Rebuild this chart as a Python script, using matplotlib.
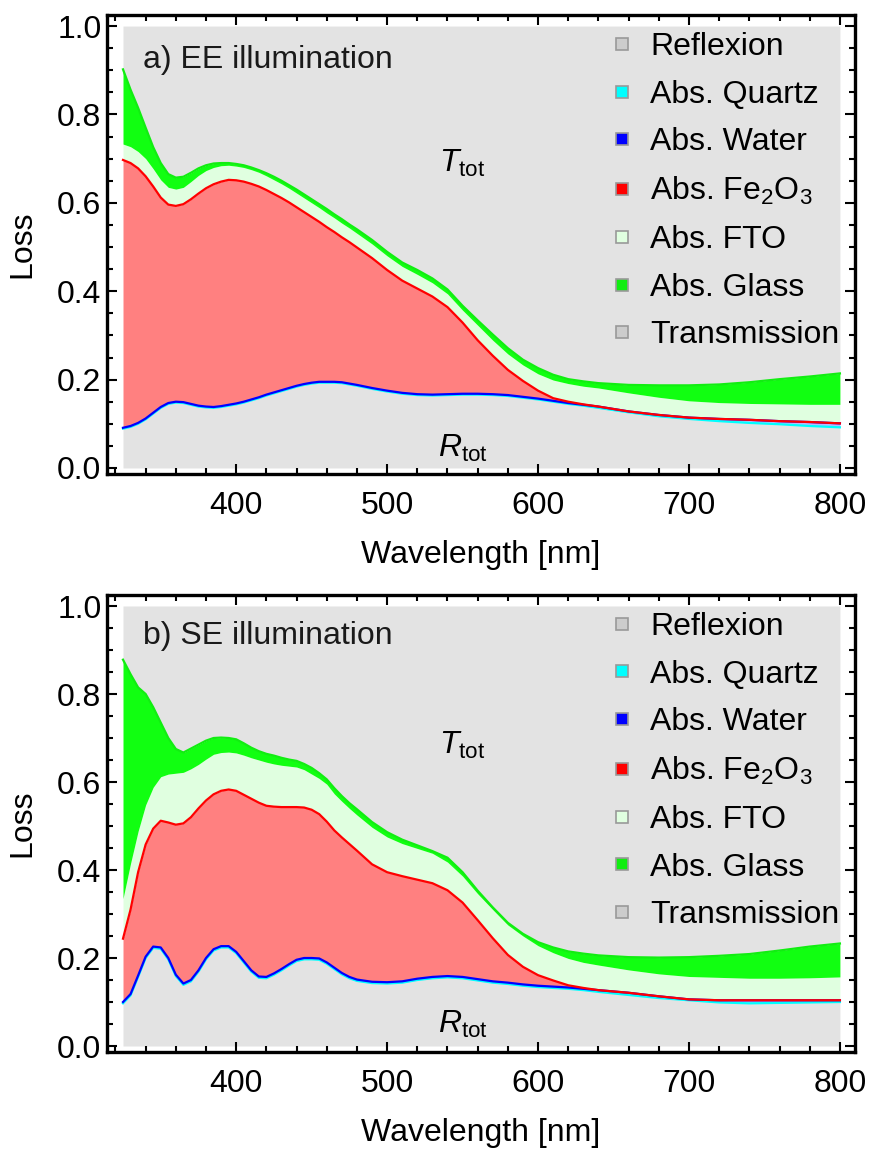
import numpy as np
import matplotlib
matplotlib.use("Agg")
import matplotlib.pyplot as plt
from matplotlib.lines import Line2D
from matplotlib.ticker import MultipleLocator, FormatStrFormatter

plt.rcParams['font.family'] = ['Liberation Sans', 'DejaVu Sans']
plt.rcParams['mathtext.fontset'] = 'custom'
plt.rcParams['mathtext.rm'] = 'Liberation Sans'
plt.rcParams['mathtext.it'] = 'Liberation Sans:italic'

# wavelength grid (nm)
wl = [325, 330, 335, 340, 345, 350, 355, 360, 365, 370, 375, 380, 385, 390,
      395, 400, 405, 410, 415, 420, 425, 430, 435, 440, 445, 450, 455, 460,
      465, 470, 475, 480, 490, 500, 510, 520, 530, 540, 550, 560, 570, 580,
      590, 600, 610, 620, 630, 640, 660, 680, 700, 720, 740, 760, 780, 800]

# cumulative loss curves, panel a) EE illumination
a_quartz = [0.089, 0.093, 0.100, 0.110, 0.123, 0.136, 0.145, 0.148, 0.147, 0.143,
            0.139, 0.137, 0.136, 0.138, 0.141, 0.144, 0.148, 0.153, 0.158, 0.164,
            0.169, 0.174, 0.179, 0.184, 0.188, 0.191, 0.193, 0.193, 0.193, 0.192,
            0.189, 0.186, 0.179, 0.173, 0.168, 0.165, 0.164, 0.165, 0.166, 0.166,
            0.165, 0.163, 0.159, 0.155, 0.150, 0.145, 0.141, 0.136, 0.126, 0.117,
            0.111, 0.106, 0.102, 0.099, 0.095, 0.092]
a_water = [0.091, 0.095, 0.102, 0.112, 0.125, 0.138, 0.147, 0.150, 0.149, 0.145,
           0.141, 0.139, 0.138, 0.140, 0.143, 0.146, 0.150, 0.155, 0.160, 0.166,
           0.171, 0.176, 0.181, 0.186, 0.190, 0.193, 0.195, 0.195, 0.195, 0.194,
           0.191, 0.188, 0.181, 0.175, 0.170, 0.167, 0.166, 0.167, 0.168, 0.168,
           0.167, 0.165, 0.161, 0.157, 0.152, 0.147, 0.143, 0.139, 0.128, 0.120,
           0.114, 0.111, 0.109, 0.106, 0.104, 0.101]
a_fe2o3 = [0.697, 0.690, 0.678, 0.660, 0.637, 0.612, 0.596, 0.593, 0.597, 0.608,
           0.621, 0.633, 0.642, 0.648, 0.652, 0.651, 0.648, 0.643, 0.637, 0.629,
           0.620, 0.611, 0.601, 0.590, 0.579, 0.568, 0.557, 0.545, 0.534, 0.522,
           0.511, 0.499, 0.475, 0.448, 0.424, 0.406, 0.388, 0.364, 0.329, 0.289,
           0.254, 0.222, 0.197, 0.175, 0.158, 0.150, 0.144, 0.139, 0.128, 0.120,
           0.114, 0.111, 0.109, 0.106, 0.104, 0.101]
a_fto = [0.733, 0.727, 0.716, 0.700, 0.677, 0.652, 0.635, 0.631, 0.635, 0.648,
         0.662, 0.673, 0.680, 0.684, 0.685, 0.683, 0.680, 0.675, 0.669, 0.661,
         0.652, 0.643, 0.633, 0.622, 0.611, 0.600, 0.589, 0.577, 0.566, 0.554,
         0.543, 0.531, 0.507, 0.480, 0.456, 0.438, 0.419, 0.394, 0.357, 0.323,
         0.289, 0.258, 0.233, 0.213, 0.199, 0.191, 0.185, 0.181, 0.170, 0.160,
         0.152, 0.148, 0.146, 0.145, 0.144, 0.144]
a_glass = [0.902, 0.856, 0.815, 0.770, 0.726, 0.690, 0.665, 0.657, 0.659, 0.668,
           0.678, 0.685, 0.689, 0.690, 0.690, 0.688, 0.685, 0.680, 0.674, 0.667,
           0.659, 0.650, 0.640, 0.630, 0.619, 0.608, 0.597, 0.586, 0.574, 0.563,
           0.551, 0.540, 0.516, 0.489, 0.465, 0.448, 0.429, 0.404, 0.367, 0.334,
           0.302, 0.271, 0.245, 0.226, 0.211, 0.201, 0.196, 0.192, 0.188, 0.187,
           0.187, 0.189, 0.194, 0.201, 0.207, 0.214]

# cumulative loss curves, panel b) SE illumination
b_quartz = [0.097, 0.115, 0.157, 0.200, 0.223, 0.221, 0.197, 0.159, 0.139, 0.147,
            0.169, 0.197, 0.217, 0.224, 0.224, 0.211, 0.190, 0.169, 0.155, 0.154,
            0.162, 0.172, 0.183, 0.193, 0.197, 0.197, 0.196, 0.187, 0.175, 0.163,
            0.154, 0.148, 0.143, 0.142, 0.144, 0.150, 0.154, 0.156, 0.154, 0.149,
            0.144, 0.141, 0.137, 0.134, 0.132, 0.130, 0.127, 0.123, 0.116, 0.109,
            0.104, 0.099, 0.097, 0.098, 0.099, 0.100]
b_water = [0.100, 0.118, 0.160, 0.203, 0.226, 0.224, 0.200, 0.162, 0.142, 0.150,
           0.172, 0.200, 0.220, 0.227, 0.227, 0.214, 0.193, 0.172, 0.158, 0.157,
           0.165, 0.175, 0.186, 0.196, 0.200, 0.200, 0.199, 0.190, 0.178, 0.166,
           0.157, 0.151, 0.146, 0.145, 0.147, 0.153, 0.157, 0.159, 0.157, 0.152,
           0.147, 0.144, 0.140, 0.137, 0.135, 0.133, 0.130, 0.127, 0.121, 0.113,
           0.106, 0.104, 0.104, 0.104, 0.104, 0.104]
b_fe2o3 = [0.244, 0.310, 0.395, 0.458, 0.494, 0.512, 0.508, 0.503, 0.506, 0.520,
           0.540, 0.558, 0.572, 0.580, 0.583, 0.580, 0.571, 0.562, 0.553, 0.546,
           0.544, 0.543, 0.543, 0.543, 0.542, 0.537, 0.527, 0.510, 0.490, 0.474,
           0.459, 0.444, 0.413, 0.395, 0.386, 0.378, 0.370, 0.354, 0.326, 0.286,
           0.245, 0.207, 0.180, 0.161, 0.149, 0.138, 0.132, 0.127, 0.121, 0.113,
           0.106, 0.104, 0.104, 0.104, 0.104, 0.104]
b_fto = [0.335, 0.415, 0.488, 0.548, 0.588, 0.612, 0.618, 0.620, 0.622, 0.630,
         0.640, 0.652, 0.663, 0.667, 0.668, 0.666, 0.661, 0.655, 0.650, 0.645,
         0.641, 0.638, 0.636, 0.634, 0.628, 0.618, 0.608, 0.595, 0.573, 0.556,
         0.540, 0.525, 0.497, 0.475, 0.460, 0.449, 0.438, 0.418, 0.386, 0.346,
         0.310, 0.275, 0.250, 0.228, 0.212, 0.199, 0.190, 0.184, 0.173, 0.164,
         0.158, 0.156, 0.154, 0.154, 0.155, 0.157]
b_glass = [0.878, 0.845, 0.815, 0.800, 0.770, 0.735, 0.700, 0.675, 0.667, 0.676,
           0.685, 0.694, 0.700, 0.701, 0.700, 0.697, 0.688, 0.678, 0.670, 0.664,
           0.660, 0.655, 0.651, 0.648, 0.641, 0.632, 0.620, 0.606, 0.586, 0.568,
           0.552, 0.538, 0.509, 0.486, 0.469, 0.456, 0.443, 0.428, 0.395, 0.353,
           0.315, 0.280, 0.255, 0.236, 0.224, 0.215, 0.210, 0.206, 0.202, 0.201,
           0.202, 0.205, 0.209, 0.217, 0.226, 0.233]

legend_labels = ["Reflexion", "Abs. Quartz", "Abs. Water", r"Abs. Fe$_{\rm 2}$O$_{\rm 3}$",
                 "Abs. FTO", "Abs. Glass", "Transmission"]
legend_colors = ["#cccccc", "#00ffff", "#0000ff", "#ff0000", "#e0ffe0", "#11ee11", "#cccccc"]

GRAY = "#e3e3e3"
FS = 23


def panel(ax, quartz, water, fe, fto, glass, title, t_y, r_y):
    x = np.array(wl)
    ax.fill_between(x, 0, quartz, color=GRAY, lw=0)
    ax.fill_between(x, quartz, water, color="#b8b8ff", lw=0)
    ax.fill_between(x, water, fe, color="#ff8080", lw=0)
    ax.fill_between(x, fe, fto, color="#e0ffe0", lw=0)
    ax.fill_between(x, fto, glass, color="#11ff11", lw=0)
    ax.fill_between(x, glass, 1, color=GRAY, lw=0)
    ax.plot(x, quartz, color="#00ffff", lw=1.6)
    ax.plot(x, water, color="#0000ff", lw=1.6)
    ax.plot(x, fe, color="#ff0000", lw=1.6)
    ax.plot(x, glass, color="#11ee11", lw=1.6)

    ax.set_xlim(314.4, 810.0)
    ax.set_ylim(-0.0136, 1.025)
    ax.xaxis.set_major_locator(MultipleLocator(100))
    ax.xaxis.set_minor_locator(MultipleLocator(20))
    ax.yaxis.set_major_locator(MultipleLocator(0.2))
    ax.yaxis.set_minor_locator(MultipleLocator(0.05))
    ax.yaxis.set_major_formatter(FormatStrFormatter("%.1f"))
    ax.tick_params(which="both", direction="in", top=True, right=True, width=1.5,
                   labelsize=FS, colors="black")
    ax.tick_params(which="major", length=7)
    ax.tick_params(which="minor", length=4)
    ax.tick_params(axis="x", pad=12)
    ax.tick_params(axis="y", pad=4)
    for s in ax.spines.values():
        s.set_linewidth(2.4)
    ax.set_xlabel("Wavelength [nm]", fontsize=FS, labelpad=14)
    ax.set_ylabel("Loss", fontsize=FS, labelpad=14)

    ax.text(0.048, title[1], title[0], transform=ax.transAxes, fontsize=FS,
            ha="left", va="baseline", color="#1a1a1a")
    ax.text(550, t_y, r"$T_{\rm tot}$", fontsize=FS, ha="center", va="center")
    ax.text(550, r_y, r"$R_{\rm tot}$", fontsize=FS, ha="center", va="center")

    handles = [Line2D([], [], ls="", marker="s", markersize=9, markerfacecolor=c,
                      markeredgecolor="#999999", markeredgewidth=1.2)
               for c in legend_colors]
    ax.legend(handles, legend_labels, loc="upper left", bbox_to_anchor=(0.6757, 0.963),
              frameon=False, fontsize=FS, handlelength=0.6, handletextpad=0.58,
              labelspacing=0.555, borderpad=0, borderaxespad=0)


fig = plt.figure(figsize=(8.7, 11.49), dpi=100)
ax1 = fig.add_axes([107 / 870, 1 - 474 / 1149, 748 / 870, 459 / 1149])
ax2 = fig.add_axes([107 / 870, 1 - 1052 / 1149, 748 / 870, 457 / 1149])

panel(ax1, a_quartz, a_water, a_fe2o3, a_fto, a_glass, ("a) EE illumination", 0.8845), 0.69, 0.045)
panel(ax2, b_quartz, b_water, b_fe2o3, b_fto, b_glass, ("b) SE illumination", 0.8928), 0.683, 0.048)

plt.savefig("out.png", dpi=100)
